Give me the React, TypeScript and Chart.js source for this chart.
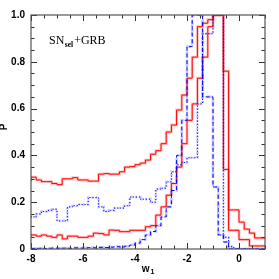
import React, { useEffect, useRef } from 'react';
import { Chart, registerables } from 'chart.js';

Chart.register(...registerables);

// bin edges (w1), 0.2 wide bins from -8 to 1
const binEdges = [
  -8.0, -7.8, -7.6, -7.4, -7.2, -7.0, -6.8, -6.6, -6.4, -6.2,
  -6.0, -5.8, -5.6, -5.4, -5.2, -5.0, -4.8, -4.6, -4.4, -4.2,
  -4.0, -3.8, -3.6, -3.4, -3.2, -3.0, -2.8, -2.6, -2.4, -2.2,
  -2.0, -1.8, -1.6, -1.4, -1.2, -1.0, -0.8, -0.6, -0.4, -0.2,
  0.0, 0.2, 0.4, 0.6, 0.8, 1.0,
];

// upper red histogram
const redUpper = [
  0.29, 0.307, 0.295, 0.288, 0.288, 0.28, 0.275, 0.30, 0.30, 0.305,
  0.295, 0.295, 0.29, 0.29, 0.32, 0.322, 0.32, 0.32, 0.33, 0.35,
  0.352, 0.36, 0.367, 0.38, 0.405, 0.42, 0.45, 0.50, 0.53, 0.594,
  0.658, 0.73, 0.82, 0.95, 0.965, 0.98, 1.0, 1.0, 0.76, 0.167,
  0.167, 0.115, 0.085, 0.068, 0.047,
];

// lower red histogram
const redLower = [
  0.053, 0.06, 0.055, 0.06, 0.055, 0.05, 0.06, 0.043, 0.055, 0.055,
  0.05, 0.05, 0.055, 0.068, 0.066, 0.06, 0.081, 0.08, 0.074, 0.074,
  0.08, 0.08, 0.08, 0.095, 0.10, 0.145, 0.18, 0.23, 0.28, 0.35,
  0.45, 0.55, 0.62, 0.73, 0.82, 0.95, 1.0, 1.0, 0.34, 0.08,
  0.08, 0.04, 0.04, 0.013, 0.013,
];

// blue dotted histogram
const blueDotted = [
  0.14, 0.137, 0.15, 0.16, 0.165, 0.17, 0.12, 0.12, 0.18, 0.185,
  0.19, 0.19, 0.22, 0.22, 0.18, 0.16, 0.165, 0.175, 0.175, 0.185,
  0.222, 0.222, 0.213, 0.213, 0.20, 0.256, 0.26, 0.287, 0.33, 0.36,
  0.37, 0.39, 0.39, 0.62, 0.92, 0.92, 1.0, 1.0, 0.05, 0.01,
  0.0, 0.0, 0.0, 0.0, 0.0,
];

// blue dashed histogram
const blueDashed = [
  0.003, 0.002, 0.003, 0.002, 0.003, 0.004, 0.003, 0.004, 0.003, 0.005,
  0.004, 0.005, 0.006, 0.005, 0.007, 0.006, 0.008, 0.01, 0.008, 0.012,
  0.017, 0.025, 0.04, 0.06, 0.075, 0.10, 0.137, 0.18, 0.25, 0.40,
  0.55, 0.865, 1.0, 1.0, 0.65, 0.65, 0.265, 0.06, 0.03, 0.0,
  0.0, 0.0, 0.0, 0.0, 0.0,
];

const xTickValues = [-8, -6, -4, -2, 0];
const yTickValues = [0, 0.2, 0.4, 0.6, 0.8, 1];
const xTitleMain = 'w';
const xTitleSub = '1';
const yTitle = 'P';
const annMain = 'SN';
const annSub = 'sel';
const annRest = '+GRB';

function steps(vals: number[]) {
  return binEdges.map((x, i) => ({ x, y: vals[Math.min(i, vals.length - 1)] }));
}

const framePlugin = {
  id: 'framePlugin',
  afterDraw(chart: any) {
    const { ctx, chartArea, scales } = chart;
    const { left, right, top, bottom } = chartArea;
    const xs = scales.x;
    const ys = scales.y;
    ctx.save();
    // ticks
    ctx.strokeStyle = '#333';
    ctx.lineWidth = 1;
    ctx.beginPath();
    for (let v = -8; v <= 1.0001; v += 0.5) {
      const px = Math.round(xs.getPixelForValue(v)) + 0.5;
      const major = Math.abs(v / 2 - Math.round(v / 2)) < 1e-6;
      const len = major ? 6 : 3.5;
      ctx.moveTo(px, bottom);
      ctx.lineTo(px, bottom - len);
      ctx.moveTo(px, top);
      ctx.lineTo(px, top + len);
    }
    for (let v = 0; v <= 1.0001; v += 0.05) {
      const py = Math.round(ys.getPixelForValue(v)) + 0.5;
      const major = Math.abs(v / 0.2 - Math.round(v / 0.2)) < 1e-6;
      const len = major ? 6 : 3.5;
      ctx.moveTo(left, py);
      ctx.lineTo(left + len, py);
      ctx.moveTo(right, py);
      ctx.lineTo(right - len, py);
    }
    ctx.stroke();
    // frame
    ctx.strokeStyle = '#555';
    ctx.lineWidth = 1.2;
    ctx.strokeRect(left, top, right - left, bottom - top);

    // axis titles
    ctx.fillStyle = '#000';
    ctx.textBaseline = 'alphabetic';
    ctx.font = 'bold 10px "Liberation Sans", Arial, sans-serif';
    const wWidth = ctx.measureText(xTitleMain).width;
    ctx.font = 'bold 7px "Liberation Sans", Arial, sans-serif';
    const sWidth = ctx.measureText(xTitleSub).width;
    const cx = (left + right) / 2;
    const startX = cx - (wWidth + sWidth + 1) / 2;
    ctx.font = 'bold 10px "Liberation Sans", Arial, sans-serif';
    ctx.textAlign = 'left';
    ctx.fillText(xTitleMain, startX, 272);
    ctx.font = 'bold 7px "Liberation Sans", Arial, sans-serif';
    ctx.fillText(xTitleSub, startX + wWidth + 1, 274);

    ctx.save();
    ctx.translate(7, (top + bottom) / 2 - 5);
    ctx.rotate(-Math.PI / 2);
    ctx.font = 'bold 10px "Liberation Sans", Arial, sans-serif';
    ctx.textAlign = 'center';
    ctx.fillText(yTitle, 0, 0);
    ctx.restore();

    // annotation
    const ax = left + 18;
    const ay = top + 29;
    ctx.textAlign = 'left';
    ctx.font = '12px "Liberation Serif", "Times New Roman", serif';
    ctx.fillText(annMain, ax, ay);
    const w1 = ctx.measureText(annMain).width;
    ctx.font = 'bold 7.5px "Liberation Serif", "Times New Roman", serif';
    ctx.fillText(annSub, ax + w1 + 0.5, ay + 3);
    const w2 = ctx.measureText(annSub).width;
    ctx.font = '12px "Liberation Serif", "Times New Roman", serif';
    ctx.fillText(annRest, ax + w1 + w2 + 1.5, ay);
    ctx.restore();
  },
};

export default function App() {
  const ref = useRef<HTMLCanvasElement | null>(null);
  useEffect(() => {
    document.body.style.margin = '0';
    const canvas = ref.current;
    if (!canvas) return;
    const base = { stepped: 'after' as const, pointRadius: 0, fill: false, tension: 0 };
    const thinRed = '#ff0000';
    const lightRed = 'rgba(255,60,60,0.3)';
    const thinBlue = '#0000ff';
    const lightBlue = 'rgba(70,70,255,0.3)';
    const chart = new Chart(canvas, {
      type: 'line',
      data: {
        datasets: [
          { ...base, label: 'blue dashed', data: steps(blueDashed), borderColor: thinBlue, borderWidth: 1, borderDash: [4, 2.5] },
          { ...base, label: 'blue dotted', data: steps(blueDotted), borderColor: thinBlue, borderWidth: 1, borderDash: [1.2, 1.8] },
          { ...base, label: 'red lower', data: steps(redLower), borderColor: thinRed, borderWidth: 1 },
          { ...base, label: 'red upper', data: steps(redUpper), borderColor: thinRed, borderWidth: 1 },
          { ...base, label: 'blue dashed light', data: steps(blueDashed), borderColor: lightBlue, borderWidth: 2.6, borderDash: [6, 3] },
          { ...base, label: 'blue dotted light', data: steps(blueDotted), borderColor: lightBlue, borderWidth: 2.6, borderDash: [2, 2] },
          { ...base, label: 'red lower light', data: steps(redLower), borderColor: lightRed, borderWidth: 2.8 },
          { ...base, label: 'red upper light', data: steps(redUpper), borderColor: lightRed, borderWidth: 2.8 },
        ],
      },
      options: {
        animation: false,
        responsive: true,
        maintainAspectRatio: false,
        layout: { padding: { top: 15, right: 14, left: 0, bottom: 0 } },
        plugins: { legend: { display: false }, tooltip: { enabled: false } },
        scales: {
          x: {
            type: 'linear',
            min: -8,
            max: 1,
            grid: { display: false, drawTicks: false },
            border: { display: false },
            afterBuildTicks: (s: any) => { s.ticks = xTickValues.map((v) => ({ value: v })); },
            afterFit: (s: any) => { s.height = 30; },
            ticks: {
              padding: 4,
              color: '#000',
              maxRotation: 0,
              font: { family: '"Liberation Sans", Arial, sans-serif', size: 10, weight: 'bold' },
            },
          },
          y: {
            type: 'linear',
            min: 0,
            max: 1,
            grid: { display: false, drawTicks: false },
            border: { display: false },
            afterBuildTicks: (s: any) => { s.ticks = yTickValues.map((v) => ({ value: v })); },
            afterFit: (s: any) => { s.width = 31; },
            ticks: {
              padding: 6,
              color: '#000',
              font: { family: '"Liberation Sans", Arial, sans-serif', size: 10, weight: 'bold' },
            },
          },
        },
      },
      plugins: [framePlugin],
    });
    return () => chart.destroy();
  }, []);
  return (
    <div style={{ position: 'fixed', left: 0, top: 0, width: 279, height: 279, background: '#fff' }}>
      <canvas ref={ref} />
    </div>
  );
}
